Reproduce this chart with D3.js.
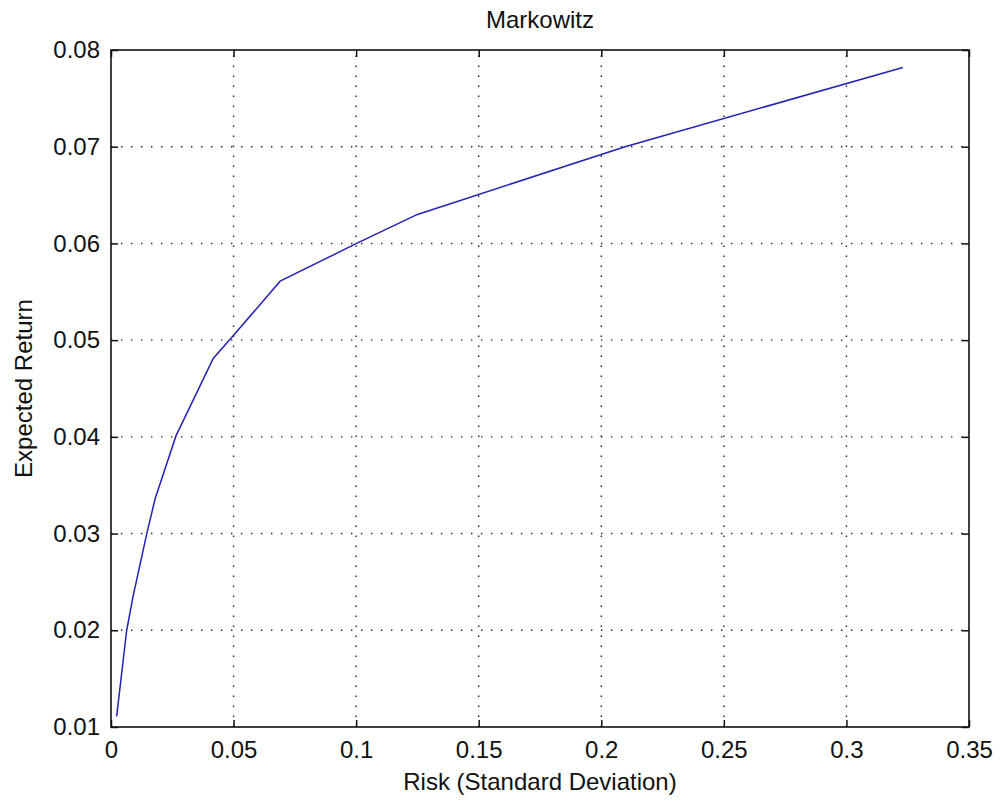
<!DOCTYPE html>
<html>
<head>
<meta charset="utf-8">
<script src="https://cdn.jsdelivr.net/npm/d3@7"></script>
<style>
  body { margin: 0; background: #fff; }
  text { font-family: "Liberation Sans", Arial, sans-serif; fill: #111; }
</style>
</head>
<body>
<div id="chart"></div>
<script>
// Efficient frontier
const risk = [0.0023, 0.0042, 0.0064, 0.009, 0.0146, 0.018, 0.0265, 0.0417, 0.05, 0.069, 0.1002, 0.125, 0.2097, 0.323];
const ret  = [0.0111, 0.0152, 0.02, 0.0235, 0.03, 0.0336, 0.0401, 0.0481, 0.0505, 0.0561, 0.06, 0.063, 0.07, 0.0782];

const xTicks = [0, 0.05, 0.1, 0.15, 0.2, 0.25, 0.3, 0.35];
const yTicks = [0.01, 0.02, 0.03, 0.04, 0.05, 0.06, 0.07, 0.08];
const xTickLabels = ['0', '0.05', '0.1', '0.15', '0.2', '0.25', '0.3', '0.35'];
const yTickLabels = ['0.01', '0.02', '0.03', '0.04', '0.05', '0.06', '0.07', '0.08'];

const width = 1001, height = 802;
const margin = { left: 111, right: 32, top: 50, bottom: 75 };

const svg = d3.select('#chart').append('svg')
    .attr('width', width)
    .attr('height', height);

const x = d3.scaleLinear().domain([0, 0.35]).range([margin.left, width - margin.right]);
const y = d3.scaleLinear().domain([0.01, 0.08]).range([height - margin.bottom, margin.top]);

const x0 = x.range()[0], x1 = x.range()[1];
const y0 = y.range()[0], y1 = y.range()[1];

// dotted grid
const grid = svg.append('g')
    .attr('stroke', '#222')
    .attr('stroke-width', 1.4)
    .attr('stroke-dasharray', '1.4,8.6');

grid.selectAll('.vg')
    .data(xTicks.slice(1, -1))
    .enter().append('line')
    .attr('x1', d => x(d)).attr('x2', d => x(d))
    .attr('y1', y0).attr('y2', y1);

grid.selectAll('.hg')
    .data(yTicks.slice(1, -1))
    .enter().append('line')
    .attr('y1', d => y(d)).attr('y2', d => y(d))
    .attr('x1', x0).attr('x2', x1);

// axes, ticks pointing inward on all four sides
const tl = 7;
svg.append('g')
    .attr('transform', `translate(0,${y0})`)
    .call(d3.axisBottom(x).tickValues(xTicks).tickSizeInner(-tl).tickSizeOuter(0)
        .tickPadding(14).tickFormat((d, i) => xTickLabels[i]));
svg.append('g')
    .attr('transform', `translate(0,${y1})`)
    .call(d3.axisTop(x).tickValues(xTicks).tickSizeInner(-tl).tickSizeOuter(0).tickFormat(''));
svg.append('g')
    .attr('transform', `translate(${x0},0)`)
    .call(d3.axisLeft(y).tickValues(yTicks).tickSizeInner(-tl).tickSizeOuter(0)
        .tickPadding(11).tickFormat((d, i) => yTickLabels[i]));
svg.append('g')
    .attr('transform', `translate(${x1},0)`)
    .call(d3.axisRight(y).tickValues(yTicks).tickSizeInner(-tl).tickSizeOuter(0).tickFormat(''));

svg.selectAll('.domain').remove();
svg.selectAll('.tick line').attr('stroke', '#111').attr('stroke-width', 1.5);
svg.selectAll('.tick text')
    .style('font-family', '"Liberation Sans", Arial, sans-serif')
    .style('font-size', '24px')
    .attr('fill', '#111');

// box
svg.append('rect')
    .attr('x', x0).attr('y', y1)
    .attr('width', x1 - x0).attr('height', y0 - y1)
    .attr('fill', 'none')
    .attr('stroke', '#111')
    .attr('stroke-width', 1.6);

// frontier line
const line = d3.line()
    .x((d, i) => x(risk[i]))
    .y((d, i) => y(ret[i]));

svg.append('path')
    .datum(risk)
    .attr('d', line)
    .attr('fill', 'none')
    .attr('stroke', '#2222b8')
    .attr('stroke-width', 1.5);

// title and labels
svg.append('text')
    .attr('x', (x0 + x1) / 2)
    .attr('y', 28)
    .attr('text-anchor', 'middle')
    .style('font-size', '24px')
    .text('Markowitz');

svg.append('text')
    .attr('x', (x0 + x1) / 2)
    .attr('y', 790)
    .attr('text-anchor', 'middle')
    .style('font-size', '24px')
    .text('Risk (Standard Deviation)');

svg.append('text')
    .attr('transform', `translate(32,${(y0 + y1) / 2}) rotate(-90)`)
    .attr('text-anchor', 'middle')
    .style('font-size', '24px')
    .text('Expected Return');
</script>
</body>
</html>
